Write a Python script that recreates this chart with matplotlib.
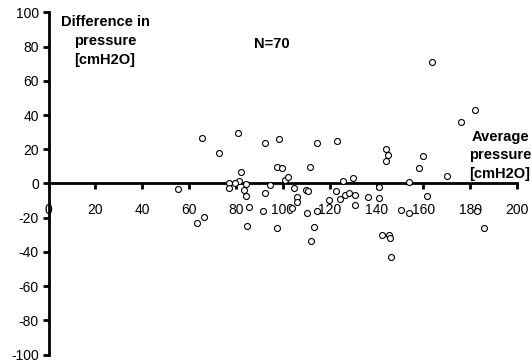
import matplotlib
matplotlib.use("Agg")
import matplotlib.pyplot as plt

plt.rcParams["font.family"] = ["Liberation Sans", "DejaVu Sans"]
plt.rcParams["axes.unicode_minus"] = False

# ── Data ─────────────────────────────────────────────────────────────────────
avg_pressure = [
    55.4, 63.2, 66.4, 65.6, 80.7, 72.9, 92.4, 98.4, 114.5, 123.3,
    82.3, 97.4, 99.5, 111.5, 77.2, 76.9, 81.3, 84.3, 83.4, 84.2,
    85.7, 91.4, 92.3, 94.7, 101.0, 102.1, 104.6, 105.9, 105.9, 103.9,
    110.0, 110.3, 114.5, 113.3, 112.2, 97.7, 84.6, 122.7, 119.8, 143.9,
    145.0, 144.0, 125.7, 130.0, 141.1, 154.0, 126.4, 128.3, 130.7, 124.4,
    130.9, 136.2, 141.0, 150.4, 153.7, 142.3, 145.2, 145.6, 146.0, 163.7,
    181.9, 176.1, 160.0, 158.0, 170.2, 161.7, 182.7, 185.7, 110.6, 79.6,
]
diff_pressure = [
    -3.1, -23.0, -19.4, 26.8, 29.7, 18.0, 23.5, 25.8, 23.5, 24.8,
    6.5, 9.8, 9.2, 9.8, 0.0, -2.9, 1.4, -0.6, -3.9, -7.4,
    -14.0, -16.4, -5.3, -1.0, 1.8, 3.7, -2.7, -8.2, -11.1, -14.1,
    -3.9, -17.0, -16.0, -25.6, -33.6, -25.8, -24.6, -4.3, -9.4, 19.9,
    16.8, 13.3, 1.6, 3.3, -1.9, 0.8, -6.5, -5.7, -6.9, -9.2,
    -12.7, -8.2, -8.8, -15.8, -17.4, -30.1, -30.1, -31.8, -42.8, 71.0,
    43.2, 36.0, 16.2, 8.8, 4.3, -7.4, -16.2, -25.8, -4.2, 0.4,
]
x_ticks = [0, 20, 40, 60, 80, 100, 120, 140, 160, 180, 200]
y_ticks = [-100, -80, -60, -40, -20, 0, 20, 40, 60, 80, 100]

fig = plt.figure(figsize=(5.32, 3.63), dpi=100)
ax = fig.add_axes([0.0912, 0.0234, 0.881, 0.9425])

ax.plot(avg_pressure, diff_pressure, linestyle="none", marker="o",
        markersize=4.3, markerfacecolor="white", markeredgecolor="black",
        markeredgewidth=0.8, zorder=3)

ax.set_xlim(0, 200)
ax.set_ylim(-100, 100)
ax.set_xticks(x_ticks)
ax.set_yticks(y_ticks)

ax.spines["left"].set_position(("data", 0))
ax.spines["bottom"].set_position(("data", 0))
ax.spines["top"].set_visible(False)
ax.spines["right"].set_visible(False)
for s in ("left", "bottom"):
    ax.spines[s].set_linewidth(2)

ax.tick_params(axis="both", direction="out", length=4, width=2,
               labelsize=10, colors="black")
ax.tick_params(axis="x", pad=10)
ax.tick_params(axis="y", pad=3)
ax.patch.set_visible(False)

ax.text(24.1, 83.3, "Difference in\npressure\n[cmH2O]", ha="center",
        va="center", fontsize=10.5, fontweight="bold", linespacing=1.45)
ax.text(95.4, 81.5, "N=70", ha="center", va="center",
        fontsize=10.5, fontweight="bold")
ax.text(192.7, 16.4, "Average\npressure\n[cmH2O]", ha="center",
        va="center", fontsize=10.5, fontweight="bold", linespacing=1.4)

fig.savefig("out.png", dpi=100)
